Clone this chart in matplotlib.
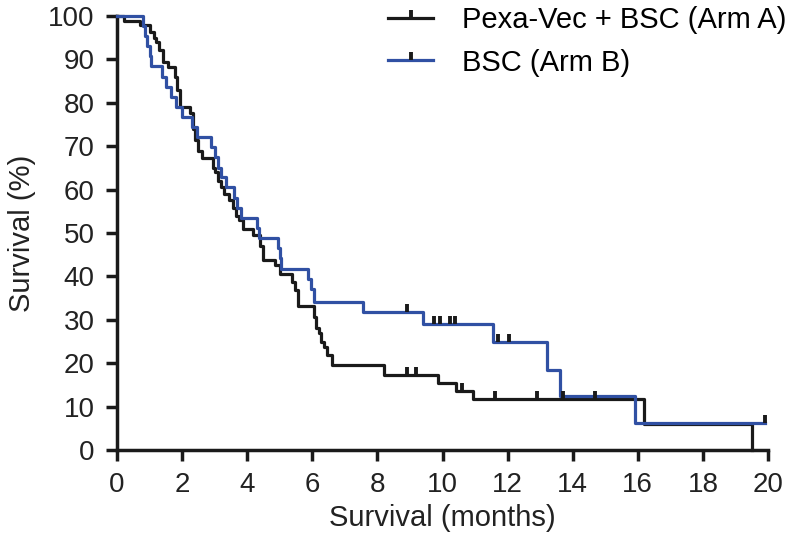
import numpy as np
import matplotlib.pyplot as plt
from matplotlib.path import Path
from matplotlib.lines import Line2D

plt.rcParams['font.family'] = ['Liberation Sans', 'DejaVu Sans']

# -------------------------------
# Kaplan-Meier data
# -------------------------------
arm_a_time = [0, 0.2, 0.7, 1.0, 1.15, 1.2, 1.3, 1.42, 1.57, 1.78, 1.85, 1.94, 2.25, 2.35,
              2.4, 2.5, 2.6, 2.95, 3.0, 3.1, 3.2, 3.3, 3.45, 3.57, 3.65, 3.75, 3.88, 4.19,
              4.4, 4.5, 4.86, 5.0, 5.38, 5.48, 5.57, 6.05, 6.12, 6.2, 6.28, 6.35, 6.45,
              6.6, 8.2, 9.87, 10.4, 10.95, 16.2, 19.5]
arm_a_surv = [100, 98.9, 97.9, 96.2, 95, 94, 92.2, 89.4, 88.3, 86, 83, 79, 77.6, 74,
              71.4, 69, 67.2, 65, 64, 62, 60.6, 59, 57.5, 55.7, 54, 53, 51, 49.5,
              47, 43.8, 42.6, 40.5, 38.7, 36.9, 33.1, 30.7, 28, 27, 25, 23.7, 21.9,
              19.6, 17.3, 15.5, 13.6, 11.8, 5.9, 0]
arm_a_censor = [8.9, 9.2, 10.6, 11.6, 12.9, 13.7, 14.7]

arm_b_time = [0, 0.8, 0.85, 0.92, 1.0, 1.05, 1.38, 1.5, 1.65, 1.8, 2.0, 2.3, 2.45, 2.88,
              3.0, 3.1, 3.2, 3.35, 3.6, 3.7, 3.8, 4.3, 4.35, 4.95, 5.0, 5.05, 5.88, 5.95,
              6.05, 7.57, 9.4, 11.55, 13.2, 13.6, 15.9, 19.9]
arm_b_surv = [100, 97.7, 95.3, 93, 90.7, 88.4, 86, 83.7, 81.4, 79, 76.7, 74.4, 72.1, 69.8,
              67.5, 65, 62.8, 60.5, 58.1, 55.8, 53.5, 51.2, 48.8, 46.5, 44.2, 41.8, 39.5, 37.2,
              34.1, 31.8, 29.0, 24.9, 18.5, 12.4, 6.2, 6.2]
arm_b_censor = [8.9, 9.74, 9.92, 10.23, 10.38, 11.7, 12.05, 19.9]

labels = ["Pexa-Vec + BSC (Arm A)", "BSC (Arm B)"]
colors = ["#1a1a1a", "#3050a3"]
tick_color = "#1a1a1a"
text_color = "#222222"

# censor tick: short vertical stroke pointing up from the curve
censor_marker = Path([(0, 0), (0, 1)], [Path.MOVETO, Path.LINETO])


def surv_at(times, surv, t):
    idx = np.searchsorted(times, t, side="right") - 1
    return np.asarray(surv)[idx]


fig = plt.figure(figsize=(8, 5.48), dpi=100)
ax = fig.add_axes([117 / 800, 1 - 450 / 548, 651 / 800, 434 / 548])

for times, surv, cens, col in [(arm_a_time, arm_a_surv, arm_a_censor, colors[0]),
                               (arm_b_time, arm_b_surv, arm_b_censor, colors[1])]:
    ax.step(times, surv, where="post", color=col, lw=2.3, clip_on=False, zorder=3)
    ax.plot(cens, surv_at(times, surv, cens), linestyle="none", marker=censor_marker,
            markersize=12, markeredgewidth=2.8, color=tick_color, clip_on=False, zorder=4)

ax.set_xlim(0, 20)
ax.set_ylim(0, 100)
ax.set_xticks(np.arange(0, 21, 2))
ax.set_yticks(np.arange(0, 101, 10))
for s in ["top", "right"]:
    ax.spines[s].set_visible(False)
for s in ["left", "bottom"]:
    ax.spines[s].set_linewidth(2.5)
    ax.spines[s].set_color("#1a1a1a")
ax.tick_params(width=2.5, length=8, labelsize=20, color="#1a1a1a", labelcolor=text_color, pad=8)
ax.set_xlabel("Survival (months)", fontsize=21, color=text_color, labelpad=4)
ax.set_ylabel("Survival (%)", fontsize=21, color=text_color, labelpad=9)

handles = [Line2D([], [], color=c, lw=2.3, marker=censor_marker, markersize=12,
                  markeredgewidth=2.8, markeredgecolor=tick_color) for c in colors]
fig.legend(handles, labels, loc="upper left", bbox_to_anchor=(388 / 800, 1 - 6 / 548),
           frameon=False, fontsize=21, handlelength=1.55, handletextpad=0.97,
           labelspacing=0.5, borderpad=0, borderaxespad=0)

plt.savefig("out.png")
